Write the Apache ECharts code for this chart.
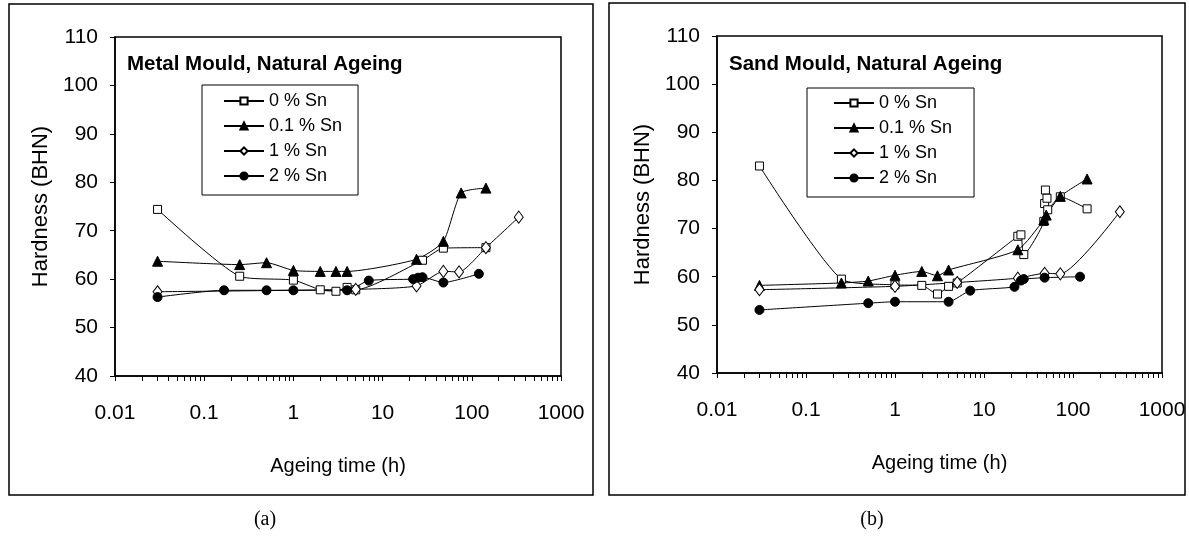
<!DOCTYPE html>
<html lang="en">
<head>
    <meta charset="UTF-8">
    <title>Hardness vs ageing time</title>
    <script src="https://cdn.jsdelivr.net/npm/echarts@6.0.0/dist/echarts.min.js"></script>
    <style>
        html, body { margin: 0; padding: 0; background: #fff; }
        #main { width: 1189px; height: 539px; }
    </style>
</head>
<body>
<div id="main"></div>
<script type="text/javascript">
    // legend names
    var names = ['0 % Sn', '0.1 % Sn', '1 % Sn', '2 % Sn'];

    // (a) metal mould, natural ageing
    var metal0Time = [0.03, 0.25, 1, 2, 3, 4, 5, 28, 48, 144];
    var metal0Hard = [74.4, 60.6, 59.8, 57.8, 57.5, 58.3, 57.8, 63.9, 66.4, 66.5];
    var metal01Time = [0.03, 0.25, 0.5, 1, 2, 3, 4, 24, 48, 76, 144];
    var metal01Hard = [63.7, 63.0, 63.4, 61.8, 61.6, 61.6, 61.6, 64.1, 67.8, 77.8, 78.8];
    var metal1Time = [0.03, 5, 24, 48, 72, 144, 336];
    var metal1Hard = [57.4, 57.9, 58.6, 61.6, 61.5, 66.5, 72.8];
    var metal2Time = [0.03, 0.167, 0.5, 1, 4, 7, 22, 25, 28, 48, 120];
    var metal2Hard = [56.3, 57.7, 57.7, 57.7, 57.7, 59.7, 60.0, 60.3, 60.4, 59.3, 61.1];

    // (b) sand mould, natural ageing
    var sand0Time = [0.03, 0.25, 1, 2, 3, 4, 5, 24, 26, 28, 47, 48, 49, 51, 52, 72, 144];
    var sand0Hard = [83.0, 59.5, 58.3, 58.2, 56.4, 58.0, 58.7, 68.4, 68.7, 64.6, 71.5, 75.2, 78.0, 76.3, 73.9, 76.6, 74.1];
    var sand01Time = [0.03, 0.25, 0.5, 1, 2, 3, 4, 24, 47, 50, 72, 144];
    var sand01Hard = [58.2, 58.7, 59.1, 60.3, 61.1, 60.2, 61.4, 65.6, 71.8, 72.8, 76.7, 80.3];
    var sand1Time = [0.03, 1, 5, 24, 48, 72, 336];
    var sand1Hard = [57.3, 58.0, 58.8, 59.7, 60.7, 60.6, 73.5];
    var sand2Time = [0.03, 0.5, 1, 4, 7, 22, 26, 28, 48, 120];
    var sand2Hard = [53.1, 54.5, 54.8, 54.8, 57.1, 57.9, 59.2, 59.5, 59.8, 60.0];

    // x ticks: decades plus 2..9 in between (Excel style log minor ticks)
    var decades = [0.01, 0.1, 1, 10, 100, 1000];
    var xTicks = [];
    decades.forEach(function (d, i) {
        xTicks.push(d);
        if (i < decades.length - 1) {
            for (var k = 2; k <= 9; k++) xTicks.push(+(d * k).toPrecision(3));
        }
    });

    var font = 'Liberation Sans, Arial, sans-serif';

    function zip(xs, ys) {
        return xs.map(function (x, i) { return [x, ys[i]]; });
    }

    var styles = [
        { symbol: 'rect', symbolSize: 8, fill: '#fff' },
        { symbol: 'triangle', symbolSize: 10, fill: '#000' },
        { symbol: 'diamond', symbolSize: [9, 12], fill: '#fff' },
        { symbol: 'circle', symbolSize: 9, fill: '#000' }
    ];

    function makeSeries(idx, data, gridIdx) {
        var s = styles[idx];
        return {
            name: names[idx],
            type: 'line',
            xAxisIndex: gridIdx,
            yAxisIndex: gridIdx,
            data: data,
            smooth: 0.2,
            symbol: s.symbol,
            symbolSize: s.symbolSize,
            showAllSymbol: true,
            lineStyle: { color: '#000', width: 1 },
            itemStyle: { color: s.fill, borderColor: '#000', borderWidth: 1 },
            emphasis: { disabled: true },
            animation: false
        };
    }

    function xAxisOpt(gridIdx) {
        return {
            gridIndex: gridIdx,
            type: 'log',
            logBase: 10,
            min: 0.01,
            max: 1000,
            name: 'Ageing time (h)',
            nameLocation: 'middle',
            nameGap: 80,
            nameTextStyle: { fontFamily: font, fontSize: 20, color: '#000' },
            axisLine: { lineStyle: { color: '#000', width: 1.5 } },
            axisTick: { show: true, inside: false, length: 5, customValues: xTicks, lineStyle: { color: '#000' } },
            axisLabel: {
                fontFamily: font, fontSize: 21, color: '#000', margin: 27,
                formatter: function (v) { return String(v); }
            },
            splitLine: { show: false }
        };
    }

    function yAxisOpt(gridIdx) {
        return {
            gridIndex: gridIdx,
            type: 'value',
            min: 40,
            max: 110,
            interval: 10,
            name: 'Hardness (BHN)',
            nameLocation: 'middle',
            nameGap: 63,
            nameTextStyle: { fontFamily: font, fontSize: 22, color: '#000' },
            axisLine: { show: true, lineStyle: { color: '#000', width: 1.5 } },
            axisTick: { show: true, length: 5, lineStyle: { color: '#000' } },
            axisLabel: { fontFamily: font, fontSize: 21, color: '#000', margin: 17 },
            splitLine: { show: false }
        };
    }

    function legendOpt(left, top, padding) {
        return {
            data: names,
            orient: 'vertical',
            left: left,
            top: top,
            padding: padding,
            itemWidth: 40,
            itemHeight: 9,
            itemGap: 5,
            borderColor: '#000',
            borderWidth: 1,
            selectedMode: false,
            textStyle: { fontFamily: font, fontSize: 18, color: '#000', lineHeight: 20 }
        };
    }

    var myChart = echarts.init(document.getElementById('main'));
    var option = {
        backgroundColor: '#fff',
        animation: false,
        title: [
            { text: 'Metal Mould, Natural Ageing', left: 127, top: 54, padding: 0,
              textStyle: { fontFamily: font, fontSize: 20.5, fontWeight: 'bold', color: '#000' } },
            { text: 'Sand Mould, Natural Ageing', left: 729, top: 54, padding: 0,
              textStyle: { fontFamily: font, fontSize: 20.5, fontWeight: 'bold', color: '#000' } }
        ],
        legend: [
            legendOpt(202, 85, [6, 16, 9, 21]),
            legendOpt(807, 88, [5, 22, 9, 26])
        ],
        grid: [
            { left: 115, top: 37, width: 446, height: 339, show: true, borderColor: '#000', borderWidth: 1.5 },
            { left: 717, top: 36, width: 445, height: 337, show: true, borderColor: '#000', borderWidth: 1.5 }
        ],
        xAxis: [xAxisOpt(0), xAxisOpt(1)],
        yAxis: [yAxisOpt(0), yAxisOpt(1)],
        graphic: [
            { type: 'rect', shape: { x: 9, y: 4, width: 584, height: 491 }, style: { fill: 'none', stroke: '#000', lineWidth: 1.5 }, silent: true },
            { type: 'rect', shape: { x: 609, y: 3, width: 576, height: 492 }, style: { fill: 'none', stroke: '#000', lineWidth: 1.5 }, silent: true },
            { type: 'text', style: { x: 265, y: 520, text: '(a)', textAlign: 'center', textVerticalAlign: 'middle', font: '20px "Liberation Serif", "Times New Roman", serif', fill: '#000' } },
            { type: 'text', style: { x: 872, y: 520, text: '(b)', textAlign: 'center', textVerticalAlign: 'middle', font: '20px "Liberation Serif", "Times New Roman", serif', fill: '#000' } }
        ],
        series: [
            makeSeries(0, zip(metal0Time, metal0Hard), 0),
            makeSeries(1, zip(metal01Time, metal01Hard), 0),
            makeSeries(2, zip(metal1Time, metal1Hard), 0),
            makeSeries(3, zip(metal2Time, metal2Hard), 0),
            makeSeries(0, zip(sand0Time, sand0Hard), 1),
            makeSeries(1, zip(sand01Time, sand01Hard), 1),
            makeSeries(2, zip(sand1Time, sand1Hard), 1),
            makeSeries(3, zip(sand2Time, sand2Hard), 1)
        ]
    };
    myChart.setOption(option);
</script>
</body>
</html>
